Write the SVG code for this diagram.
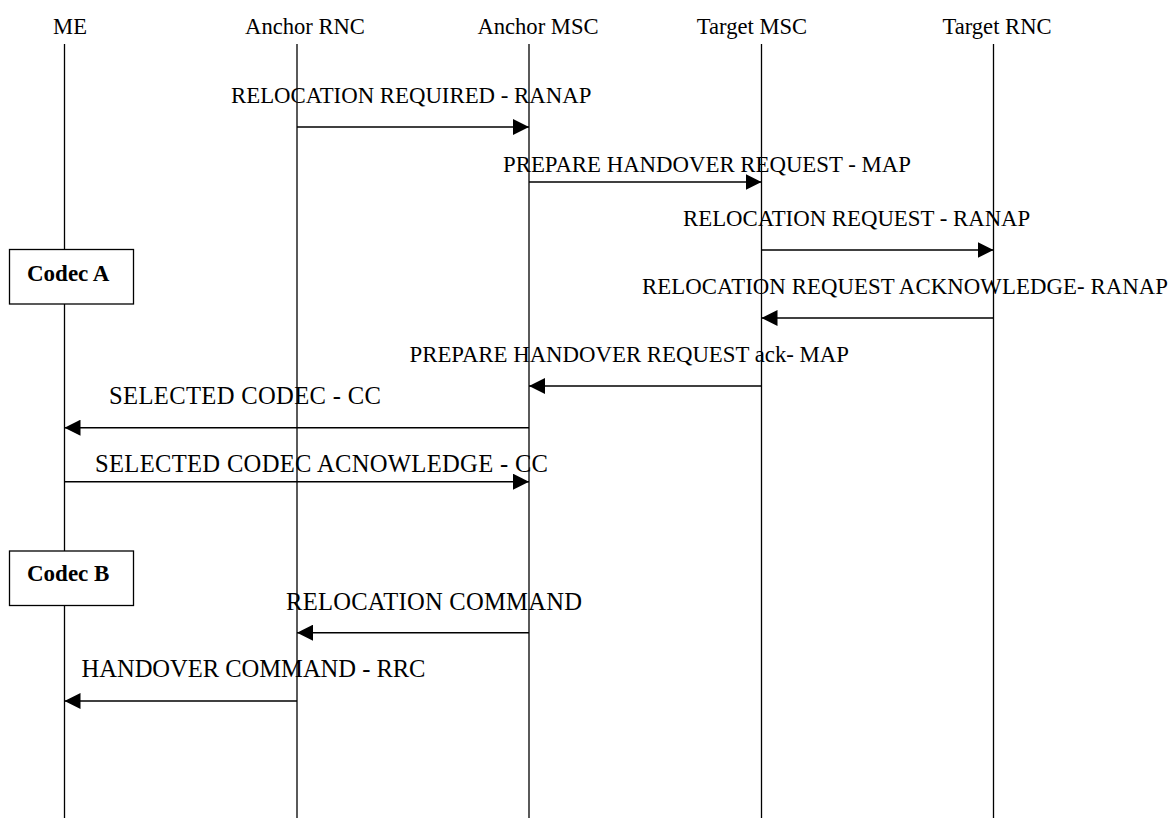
<svg xmlns="http://www.w3.org/2000/svg" width="1170" height="818" viewBox="0 0 1170 818">
<style>
text{font-family:"Liberation Serif","Times New Roman",serif;fill:#000;}
.hdr{font-size:22.6px;text-anchor:middle;}
.lbl{font-size:22.8px;}
.lbl2{font-size:24.6px;}
.codec{font-size:23px;font-weight:bold;}
.life{stroke:#000;stroke-width:1.3;fill:none;}
.msg{stroke:#000;stroke-width:1.4;fill:none;marker-end:url(#ah);}
.box{fill:#fff;stroke:#000;stroke-width:1.3;}
</style>
<defs>
<marker id="ah" markerUnits="userSpaceOnUse" markerWidth="16" markerHeight="16" refX="16" refY="8" orient="auto">
<path d="M0,0 L16,8 L0,16 z" fill="#000"/>
</marker>
</defs>
<rect width="1170" height="818" fill="#fff"/>
<g id="ME">
<text class="hdr" x="70" y="34">ME</text>
<line class="life" x1="64.5" y1="44" x2="64.5" y2="818"/>
</g>
<g id="AnchorRNC">
<text class="hdr" x="305" y="34">Anchor RNC</text>
<line class="life" x1="297" y1="44" x2="297" y2="818"/>
</g>
<g id="AnchorMSC">
<text class="hdr" x="538" y="34">Anchor MSC</text>
<line class="life" x1="529" y1="44" x2="529" y2="818"/>
</g>
<g id="TargetMSC">
<text class="hdr" x="752" y="34">Target MSC</text>
<line class="life" x1="761.5" y1="44" x2="761.5" y2="818"/>
</g>
<g id="TargetRNC">
<text class="hdr" x="997" y="34">Target RNC</text>
<line class="life" x1="993.5" y1="44" x2="993.5" y2="818"/>
</g>
<g id="CodecA">
<rect class="box" x="9.5" y="249.5" width="124" height="54.5"/>
<text class="codec" x="27" y="281">Codec A</text>
</g>
<g id="CodecB">
<rect class="box" x="9.5" y="551" width="124" height="54.5"/>
<text class="codec" x="27" y="581">Codec B</text>
</g>
<g id="connectors">
<line class="msg" x1="297" y1="127" x2="529" y2="127"/>
<line class="msg" x1="529" y1="182" x2="761.5" y2="182"/>
<line class="msg" x1="761.5" y1="250" x2="993.5" y2="250"/>
<line class="msg" x1="993.5" y1="318" x2="761.5" y2="318"/>
<line class="msg" x1="761.5" y1="386" x2="529" y2="386"/>
<line class="msg" x1="529" y1="427.7" x2="64.5" y2="427.7"/>
<line class="msg" x1="64.5" y1="481.7" x2="529" y2="481.7"/>
<line class="msg" x1="529" y1="632.7" x2="297" y2="632.7"/>
<line class="msg" x1="297" y1="701" x2="64.5" y2="701"/>
</g>
<g id="labels">
<text class="lbl" x="231" y="103">RELOCATION REQUIRED - RANAP</text>
<text class="lbl" x="503" y="172">PREPARE HANDOVER REQUEST - MAP</text>
<text class="lbl" x="683" y="226">RELOCATION REQUEST - RANAP</text>
<text class="lbl" x="642" y="294" textLength="526" lengthAdjust="spacing">RELOCATION REQUEST ACKNOWLEDGE- RANAP</text>
<text class="lbl" x="409.5" y="362">PREPARE HANDOVER REQUEST ack- MAP</text>
<text class="lbl2" x="109" y="404" textLength="272" lengthAdjust="spacing">SELECTED CODEC - CC</text>
<text class="lbl2" x="95" y="472" textLength="453" lengthAdjust="spacing">SELECTED CODEC ACNOWLEDGE - CC</text>
<text class="lbl2" x="286" y="609.5" textLength="296" lengthAdjust="spacing">RELOCATION COMMAND</text>
<text class="lbl2" x="81.5" y="677" textLength="344" lengthAdjust="spacing">HANDOVER COMMAND - RRC</text>
</g>
</svg>
